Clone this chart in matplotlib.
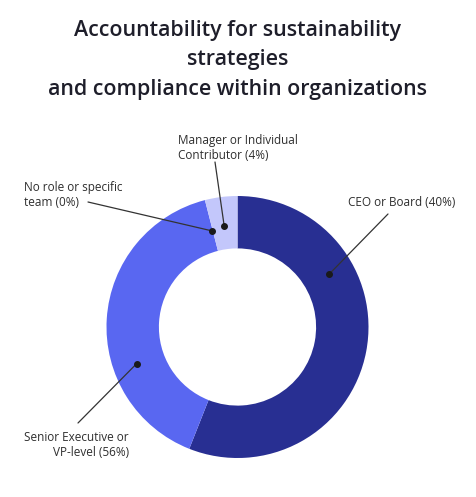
import numpy as np
import matplotlib.pyplot as plt

# wedge shares as drawn (clockwise from 12 o'clock)
slice_names = ["CEO or Board", "Senior Executive or VP-level", "No role or specific team",
               "Manager or Individual Contributor"]
slice_shares = [56, 40, 0, 4]
slice_colors = ["#282f92", "#5967f1", "#5967f1", "#c3c7fb"]

# label texts as printed on the chart
label_texts = ["CEO or Board (40%)", "Senior Executive or\nVP-level (56%)",
               "No role or specific\nteam (0%)", "Manager or Individual\nContributor (4%)"]

plt.rcParams['font.family'] = ['Open Sans', 'DejaVu Sans']
plt.rcParams['font.stretch'] = 'normal'

W, H = 476, 497
fig = plt.figure(figsize=(W / 100, H / 100), dpi=100)

# donut placement in image pixels
cx, cy, r = 237.5, 327, 131
ax = fig.add_axes([(cx - r) / W, (H - cy - r) / H, 2 * r / W, 2 * r / H])
wedges, _ = ax.pie(slice_shares, colors=slice_colors, startangle=90, counterclock=False,
                   radius=1, wedgeprops=dict(width=0.4, linewidth=0))
ax.set_xlim(-1, 1)
ax.set_ylim(-1, 1)
ax.set_aspect('equal')
ax.axis('off')

fig.text(0.5, (H - 60) / H, "Accountability for sustainability\nstrategies\nand compliance within organizations",
         ha='center', va='center', fontsize=15.4, fontweight='semibold', fontstretch='normal',
         color='#1e1e2a', linespacing=1.53)

# annotation anchors: angle clockwise from top, radius in pie units, label spot (img px)
anchors = [
    (60, 0.81, (348, 203), 'left', (388, 214)),
    (250, 0.82, (129, 445), 'right', (78, 423)),
    (345, 0.76, (24, 195), 'left', (88, 202)),
    (352.5, 0.78, (178, 148), 'left', (215, 162)),
]

for text, (ang, rad, (tx, ty), ha, (lx, ly)) in zip(label_texts, anchors):
    a = np.deg2rad(90 - ang)
    px, py = rad * np.cos(a), rad * np.sin(a)
    ax.plot(px, py, 'o', color='#1a1a1a', markersize=4, zorder=5)
    ax.annotate("", xy=(px, py), xycoords='data', xytext=(lx, H - ly),
                textcoords='figure pixels',
                arrowprops=dict(arrowstyle='-', color='#333333', lw=0.9,
                                shrinkA=0, shrinkB=0))
    fig.text(tx / W, (H - ty) / H, text, ha=ha, va='center', fontsize=8.5,
             fontweight='normal', fontstretch='normal', color='#2e2e2e', linespacing=1.25)

fig.savefig("out.png", dpi=100, facecolor='white')
